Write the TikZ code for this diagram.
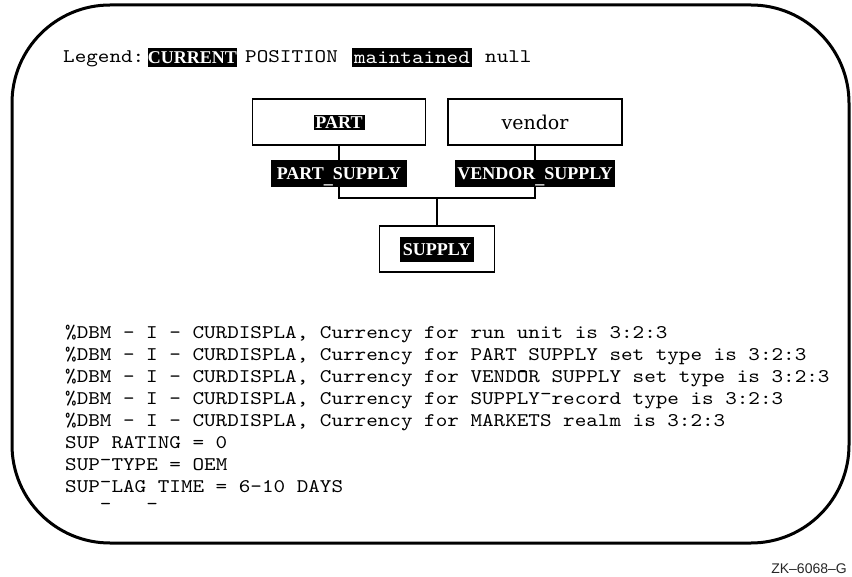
\documentclass[tikz,border=0pt]{standalone}
\usepackage{fontspec}
\setmonofont[FakeStretch=1.143]{lmmono10-regular.otf}
\newfontfamily\lblfont{Liberation Serif}
\newfontfamily\vendfont{DejaVu Serif}
\newfontfamily\zkfont{Liberation Sans}
\newcommand\monous{\raisebox{-9pt}[0pt][0pt]{\_}}
\newcommand\lblus{\raisebox{-4pt}[0pt][0pt]{\_}}
\begin{document}
\begin{tikzpicture}[x=1pt,y=-1pt,
  frame/.style={line width=3pt, rounded corners=98pt},
  rec/.style={draw, line width=1.2pt, inner sep=0pt},
  hl/.style={fill=black, text=white, inner sep=0pt, font=\lblfont\bfseries\fontsize{18}{20}\selectfont},
  hlmono/.style={fill=black, text=white, inner sep=0pt, font=\ttfamily\fontsize{19.3}{22}\selectfont},
  mono/.style={inner sep=0pt, anchor=base west, font=\ttfamily\fontsize{19.3}{22}\selectfont},
  conn/.style={line width=1.2pt}]
\useasboundingbox (0,0) rectangle (852,577);
\draw[frame] (12,5) rectangle (849,543);

% legend
\node[mono] (leg) at (63,62.5) {Legend:};
\node[hl, minimum width=87pt, minimum height=19pt] (cur) at (192.5,57.5) {CURRENT};
\node[mono] (pos) at (245,62.5) {POSITION};
\node[hlmono, minimum width=120pt, minimum height=19pt] (mnt) at (412,57.5) {maintained};
\node[mono] (nul) at (485,62.5) {null};

% diagram
\node[rec, minimum width=173pt, minimum height=46pt] (part) at (339,122) {};
\node[hl, minimum width=51pt, minimum height=15pt] (partl) at (339,122.5) {PART};
\node[rec, minimum width=174pt, minimum height=46pt, font=\vendfont\fontsize{19}{22}\selectfont] (vendor) at (535,122) {vendor};
\node[hl, minimum width=136pt, minimum height=27pt] (ps) at (339,173.5) {PART\lblus SUPPLY};
\node[hl, minimum width=160pt, minimum height=27pt] (vs) at (535,173.5) {VENDOR\lblus SUPPLY};
\node[rec, minimum width=115pt, minimum height=46pt] (supply) at (437,249) {};
\node[hl, minimum width=74pt, minimum height=25pt] (supl) at (437,249.5) {SUPPLY};
\coordinate (j) at (437,198);
\draw[conn] (part.south) -- (ps.north);
\draw[conn] (vendor.south) -- (vs.north);
\draw[conn] (ps.south) |- (j) -| (vs.south);
\draw[conn] (j) -- (supply.north);

% messages
\node[mono] (l1) at (65,338.5) {\%DBM - I - CURDISPLA, Currency for run unit is 3:2:3};
\node[mono] (l2) at (65,360.5) {\%DBM - I - CURDISPLA, Currency for PART\monous SUPPLY set type is 3:2:3};
\node[mono] (l3) at (65,382.5) {\%DBM - I - CURDISPLA, Currency for VENDOR\monous SUPPLY set type is 3:2:3};
\node[mono] (l4) at (65,404.5) {\%DBM - I - CURDISPLA, Currency for SUPPLY record type is 3:2:3};
\node[mono] (l5) at (65,426.5) {\%DBM - I - CURDISPLA, Currency for MARKETS realm is 3:2:3};
\node[mono] (l6) at (65,448.5) {SUP\monous RATING = 0};
\node[mono] (l7) at (65,470.5) {SUP\monous TYPE = OEM};
\node[mono] (l8) at (65,492.5) {SUP\monous LAG\monous TIME = 6-10 DAYS};

\node[anchor=base east, inner sep=0pt, text=black!85, font=\zkfont\fontsize{14}{16}\selectfont] (zk) at (847,573) {ZK–6068–G};
\end{tikzpicture}
\end{document}
